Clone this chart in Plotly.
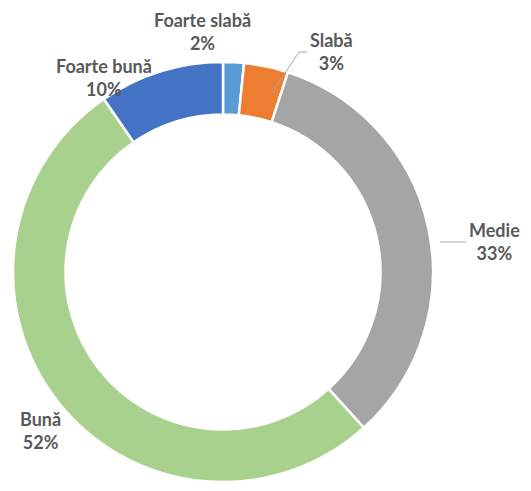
import plotly.graph_objects as go

# categorii si valori (procente)
labels = ['Foarte slabă', 'Slabă', 'Medie', 'Bună', 'Foarte bună']
values = [1.6, 3.4, 33.3, 52.1, 9.6]
colors = ['#5B9BD5', '#ED7D31', '#A5A5A5', '#A9D18E', '#4472C4']

# pagina are margin 8px pe body -> figura mai mica si coordonate decalate
OFF = 8
W, H = 531 - 2 * OFF, 491 - 2 * OFF


def px(x):
    return (x - OFF) / W


def py(y):
    return 1 - (y - OFF) / H


# pozitii etichete in pixeli de fereastra (x, y de sus), ancora
label_pos = [(202, 32, 'center'), (331, 52, 'center'), (522, 241, 'right'),
             (40, 430, 'center'), (104, 77, 'center')]

fig = go.Figure(go.Pie(
    labels=labels, values=values, hole=0.75, sort=False,
    direction='clockwise', rotation=0,
    marker=dict(colors=colors, line=dict(color='white', width=2.5)),
    textinfo='none', hoverinfo='label+percent', showlegend=False,
    domain=dict(x=[px(13), px(433)], y=[py(482), py(62)]),
))

total = sum(values)
for lab, v, (x, y, anc) in zip(labels, values, label_pos):
    fig.add_annotation(
        x=px(x), y=py(y), xref='paper', yref='paper',
        text=f'<b>{lab}<br>{round(v / total * 100)}%</b>', showarrow=False,
        font=dict(family='Lato, Open Sans, sans-serif', size=18, color='#595959'),
        xanchor=anc, yanchor='middle', align='center',
    )

# linii de legatura (Slabă, Medie)
line = dict(color='#A6A6A6', width=1)
fig.add_shape(type='path', xref='paper', yref='paper', line=line,
              path=f'M {px(272)} {py(93)} L {px(299)} {py(52)} L {px(307)} {py(52)}')
fig.add_shape(type='line', xref='paper', yref='paper', line=line,
              x0=px(440), y0=py(242), x1=px(466), y1=py(242))

fig.update_layout(
    width=W, height=H, margin=dict(l=0, r=0, t=0, b=0),
    paper_bgcolor='white', plot_bgcolor='white',
)
fig.write_html('out.html')
